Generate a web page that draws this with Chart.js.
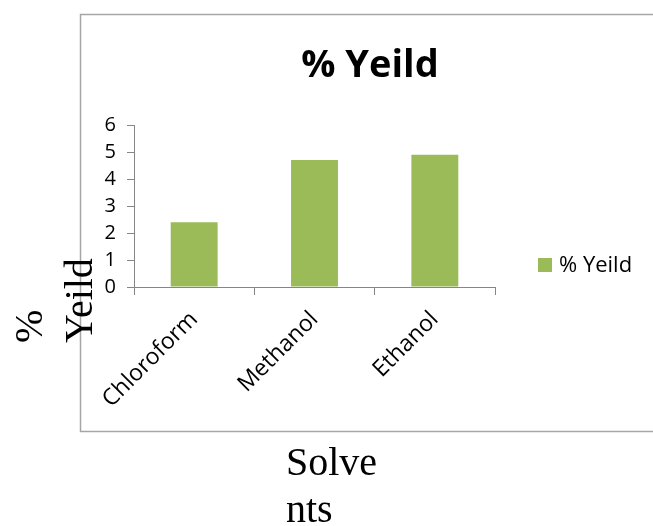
<!DOCTYPE html>
<html>
<head>
<meta charset="utf-8">
<script src="https://cdn.jsdelivr.net/npm/chart.js@4.4.0/dist/chart.umd.min.js"></script>
<style>
  html, body { margin: 0; padding: 0; background: #ffffff; }
  #wrap { position: relative; width: 653px; height: 526px; }
</style>
</head>
<body>
<div id="wrap"><canvas id="c" width="653" height="526"></canvas></div>
<script>
const categories = ["Chloroform", "Methanol", "Ethanol"];
const yieldValues = [2.4, 4.7, 4.9];
const seriesName = "% Yeild";
const chartTitle = "% Yeild";
const yAxisTitleLines = ["%", "Yeild"];
const xAxisTitleLines = ["Solve", "nts"];
const yTickMin = 0, yTickMax = 6, yTickStep = 1;

const AXIS = '#868686';
const GREEN = '#9BBB59';

const decor = {
  id: 'decor',
  afterDraw(chart) {
    const ctx = chart.ctx;
    ctx.save();
    // outer chart frame
    ctx.strokeStyle = '#A6A6A6';
    ctx.lineWidth = 1.5;
    ctx.beginPath();
    ctx.moveTo(700, 14.5);
    ctx.lineTo(80.5, 14.5);
    ctx.lineTo(80.5, 431.5);
    ctx.lineTo(700, 431.5);
    ctx.stroke();

    // title
    ctx.fillStyle = '#000';
    ctx.font = 'bold 38px "Open Sans"';
    ctx.textAlign = 'center';
    ctx.textBaseline = 'alphabetic';
    ctx.fillText(chartTitle, 370, 77);

    // legend
    const ds = chart.data.datasets[0];
    ctx.fillStyle = ds.backgroundColor;
    ctx.fillRect(538, 258, 14, 14);
    ctx.fillStyle = '#000';
    ctx.font = '22px "Open Sans"';
    ctx.textAlign = 'left';
    ctx.fillText(ds.label, 559, 272);

    // y axis title (rotated, two lines)
    ctx.font = '40px "Liberation Serif"';
    const yBase = [42, 92];
    yAxisTitleLines.forEach((t, i) => {
      ctx.save();
      ctx.translate(yBase[i], 343);
      ctx.rotate(-Math.PI / 2);
      ctx.textAlign = 'left';
      ctx.fillText(t, 0, 0);
      ctx.restore();
    });

    // x axis title (two lines)
    ctx.textAlign = 'left';
    ctx.fillText(xAxisTitleLines[0], 286, 475);
    ctx.fillText(xAxisTitleLines[1], 286, 522);
    ctx.restore();
  }
};

new Chart(document.getElementById('c'), {
  type: 'bar',
  data: {
    labels: categories,
    datasets: [{
      label: seriesName,
      data: yieldValues,
      backgroundColor: GREEN,
      borderWidth: 0,
      barPercentage: 0.39,
      categoryPercentage: 1.0
    }]
  },
  options: {
    responsive: false,
    animation: false,
    devicePixelRatio: 1,
    layout: { padding: { left: 0, top: 125, right: 158, bottom: 0 } },
    plugins: {
      legend: { display: false },
      title: { display: false },
      tooltip: { enabled: false }
    },
    scales: {
      x: {
        afterFit(scale) { scale.height = 239; },
        grid: { offset: true, drawOnChartArea: false, drawTicks: true, tickLength: 8, color: AXIS },
        border: { display: true, color: AXIS, width: 1 },
        ticks: {
          minRotation: 45, maxRotation: 45, padding: 11,
          color: '#000',
          font: { family: 'Open Sans', size: 23 }
        }
      },
      y: {
        min: yTickMin, max: yTickMax,
        afterFit(scale) { scale.width = 134; },
        grid: { drawOnChartArea: false, drawTicks: true, tickLength: 7, color: AXIS },
        border: { display: true, color: AXIS, width: 1 },
        ticks: {
          stepSize: yTickStep, padding: 11,
          color: '#000',
          font: { family: 'Open Sans', size: 20 }
        }
      }
    }
  },
  plugins: [decor]
});
</script>
</body>
</html>
